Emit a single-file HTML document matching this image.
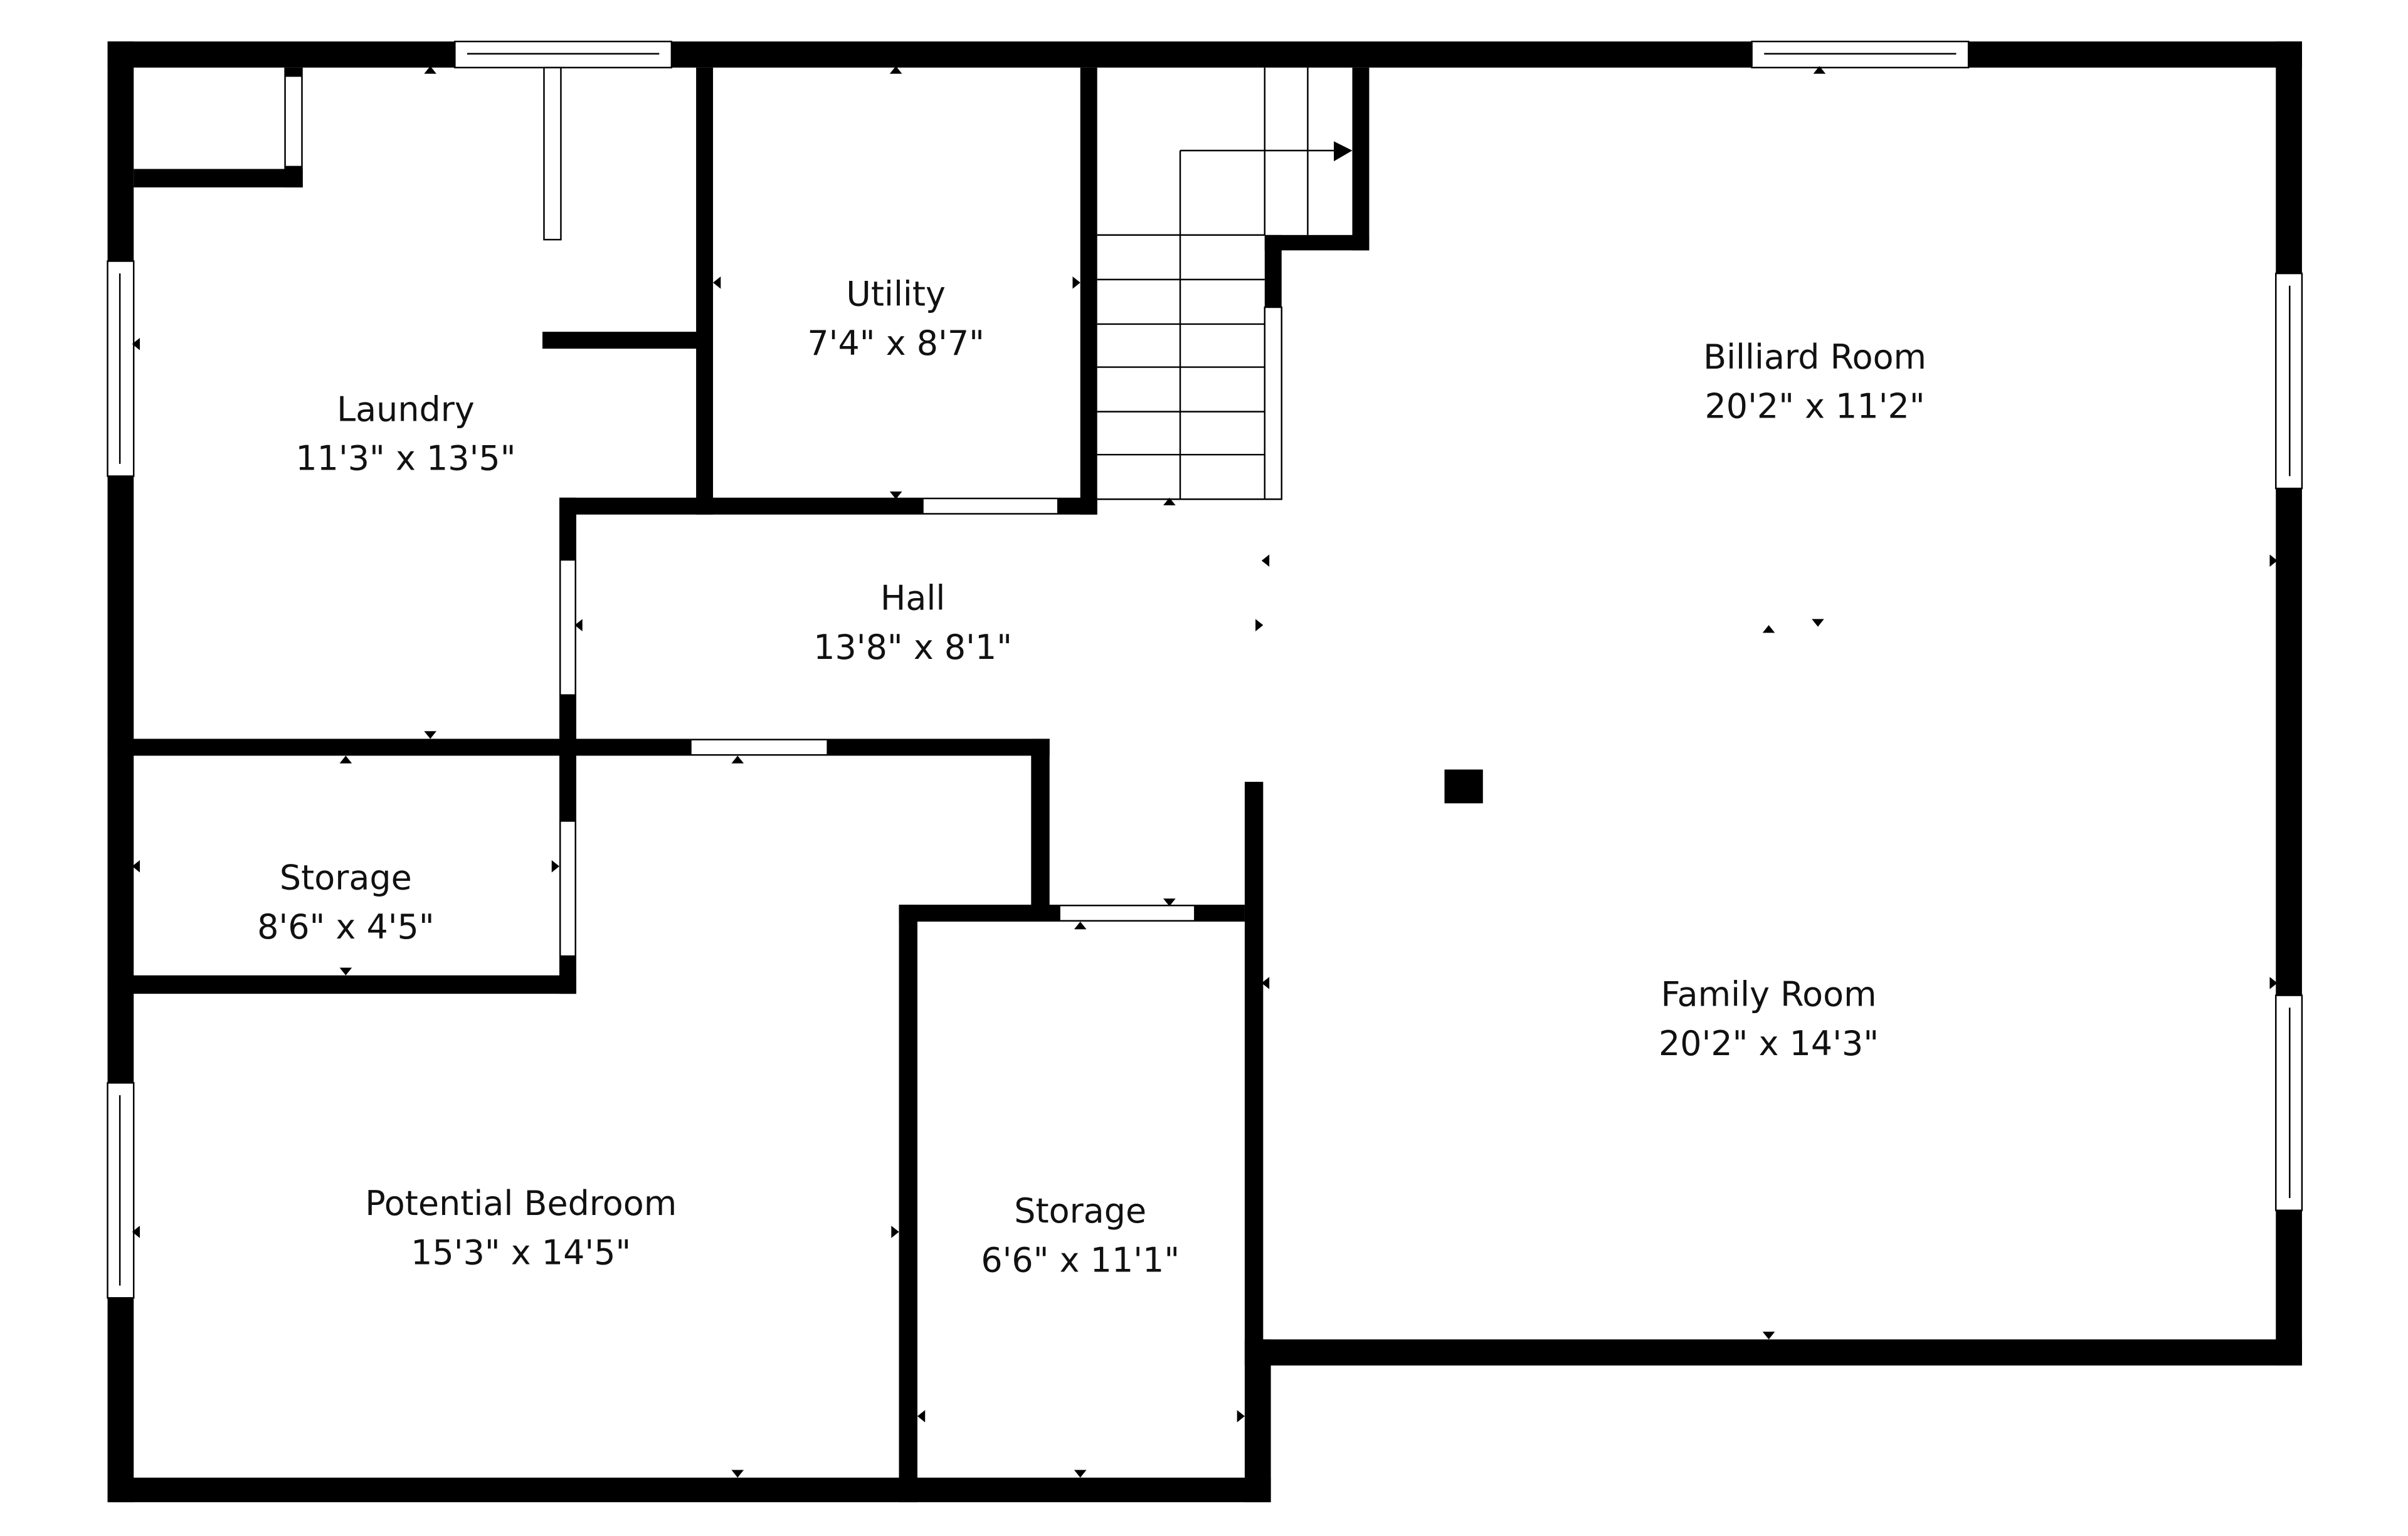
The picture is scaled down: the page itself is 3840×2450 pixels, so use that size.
<!DOCTYPE html>
<html><head><meta charset="utf-8"><style>
html,body{margin:0;padding:0;background:#fff;}
svg{display:block;}
text{font-family:"DejaVu Sans","Liberation Sans",sans-serif;font-size:22px;fill:#111;text-anchor:middle;}
</style></head><body>
<svg width="3840" height="2450" viewBox="0 0 1567 1000" preserveAspectRatio="none" xmlns="http://www.w3.org/2000/svg">
<rect width="1567" height="1000" fill="#fff"/>
<g fill="#000">
<rect x="70" y="27" width="1428" height="17"/>
<rect x="70" y="27" width="17" height="951"/>
<rect x="1481" y="27" width="17" height="862"/>
<rect x="810" y="872" width="688" height="17"/>
<rect x="70" y="962" width="757" height="16"/>
<rect x="810" y="872" width="17" height="106"/>
<rect x="87" y="110" width="110" height="12"/>
<rect x="185" y="44" width="12" height="78"/>
<rect x="353" y="216" width="102" height="11"/>
<rect x="453" y="44" width="11" height="291"/>
<rect x="703" y="44" width="11" height="291"/>
<rect x="364" y="324" width="350" height="11"/>
<rect x="364" y="324" width="11" height="323"/>
<rect x="880" y="44" width="11" height="119"/>
<rect x="823" y="153" width="68" height="10"/>
<rect x="823" y="153" width="11" height="47"/>
<rect x="70" y="481" width="613" height="11"/>
<rect x="671" y="481" width="12" height="119"/>
<rect x="585" y="589" width="225" height="11"/>
<rect x="585" y="589" width="12" height="389"/>
<rect x="810" y="509" width="12" height="380"/>
<rect x="70" y="635" width="305" height="12"/>
<rect x="940" y="501" width="25" height="22"/>
</g>
<g fill="#fff" stroke="#000" stroke-width="1">
<rect x="296" y="27" width="141" height="17"/>
<line x1="304" y1="35" x2="429" y2="35"/>
<rect x="1140" y="27" width="141" height="17"/>
<line x1="1148" y1="35" x2="1273" y2="35"/>
<rect x="70" y="170" width="17" height="140"/>
<line x1="78" y1="178" x2="78" y2="302"/>
<rect x="70" y="705" width="17" height="140"/>
<line x1="78" y1="713" x2="78" y2="837"/>
<rect x="1481" y="178" width="17" height="140"/>
<line x1="1490" y1="186" x2="1490" y2="310"/>
<rect x="1481" y="648" width="17" height="140"/>
<line x1="1490" y1="656" x2="1490" y2="780"/>
<rect x="354" y="44" width="11" height="112"/>
<rect x="823" y="200" width="11" height="125"/>
</g>
<g fill="#fff">
<rect x="186" y="50" width="10" height="58"/>
<rect x="601" y="325" width="87" height="9"/>
<rect x="365" y="365" width="9" height="87"/>
<rect x="450" y="482" width="88" height="9"/>
<rect x="365" y="535" width="9" height="87"/>
<rect x="690" y="590" width="87" height="9"/>
</g>
<g stroke="#000" stroke-width="1" fill="none">
<line x1="714" y1="153" x2="823" y2="153"/>
<line x1="714" y1="182" x2="823" y2="182"/>
<line x1="714" y1="211" x2="823" y2="211"/>
<line x1="714" y1="239" x2="823" y2="239"/>
<line x1="714" y1="268" x2="823" y2="268"/>
<line x1="714" y1="296" x2="823" y2="296"/>
<line x1="714" y1="325" x2="834" y2="325"/>
<line x1="768" y1="98" x2="768" y2="325"/>
<line x1="823" y1="44" x2="823" y2="153"/>
<line x1="851" y1="44" x2="851" y2="153"/>
<polyline points="768,98 870,98"/>
</g>
<polygon points="868,92 880,98 868,105" fill="#000"/>
<g fill="#000">
<polygon points="276,48 284,48 280,43"/>
<polygon points="579,48 587,48 583,43"/>
<polygon points="1180,48 1188,48 1184,43"/>
<polygon points="579,320 587,320 583,325"/>
<polygon points="757,329 765,329 761,324"/>
<polygon points="276,476 284,476 280,481"/>
<polygon points="221,497 229,497 225,492"/>
<polygon points="476,497 484,497 480,492"/>
<polygon points="221,630 229,630 225,635"/>
<polygon points="757,585 765,585 761,590"/>
<polygon points="699,605 707,605 703,600"/>
<polygon points="476,957 484,957 480,962"/>
<polygon points="699,957 707,957 703,962"/>
<polygon points="1147,867 1155,867 1151,872"/>
<polygon points="1147,412 1155,412 1151,407"/>
<polygon points="1179,403 1187,403 1183,408"/>
<polygon points="91,220 91,228 86,224"/>
<polygon points="469,180 469,188 464,184"/>
<polygon points="698,180 698,188 703,184"/>
<polygon points="379,403 379,411 374,407"/>
<polygon points="826,361 826,369 821,365"/>
<polygon points="817,403 817,411 822,407"/>
<polygon points="91,560 91,568 86,564"/>
<polygon points="359,560 359,568 364,564"/>
<polygon points="91,798 91,806 86,802"/>
<polygon points="580,798 580,806 585,802"/>
<polygon points="602,918 602,926 597,922"/>
<polygon points="805,918 805,926 810,922"/>
<polygon points="826,636 826,644 821,640"/>
<polygon points="1477,361 1477,369 1482,365"/>
<polygon points="1477,636 1477,644 1482,640"/>
</g>
<text x="264" y="274">Laundry</text>
<text x="264" y="306">11'3" x 13'5"</text>
<text x="583" y="199">Utility</text>
<text x="583" y="231">7'4" x 8'7"</text>
<text x="1181" y="240">Billiard Room</text>
<text x="1181" y="272">20'2" x 11'2"</text>
<text x="594" y="397">Hall</text>
<text x="594" y="429">13'8" x 8'1"</text>
<text x="225" y="579">Storage</text>
<text x="225" y="611">8'6" x 4'5"</text>
<text x="1151" y="655">Family Room</text>
<text x="1151" y="687">20'2" x 14'3"</text>
<text x="339" y="791">Potential Bedroom</text>
<text x="339" y="823">15'3" x 14'5"</text>
<text x="703" y="796">Storage</text>
<text x="703" y="828">6'6" x 11'1"</text>
</svg>
</body></html>
